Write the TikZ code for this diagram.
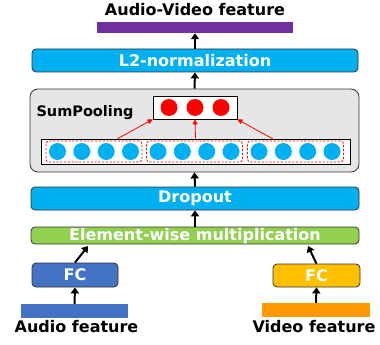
\documentclass[tikz,border=0pt]{standalone}
\usepackage{fontspec}
\setmainfont{DejaVu Sans}
\usepackage{tikz}
\usetikzlibrary{arrows.meta}
\usetikzlibrary{positioning}
\definecolor{avpurple}{HTML}{7030A0}
\definecolor{cyanbox}{HTML}{00B0F0}
\definecolor{poolgray}{HTML}{E7E6E6}
\definecolor{multgreen}{HTML}{92D050}
\definecolor{fcblue}{HTML}{4472C4}
\definecolor{fcgold}{HTML}{FFC000}
\definecolor{vorange}{HTML}{FF9900}

\begin{document}
\begin{tikzpicture}[x=1pt,y=-1pt,
                font=\fontsize{16}{18}\selectfont\bfseries,
                blk/.style n args={3}{draw=black!80,fill=#1,text=white,
                    minimum width=#2,
                    minimum height=#3,
                    rounded corners=4pt,
                    line width=0.8pt,inner sep=0pt},
                bar/.style n args={3}{fill=#1,minimum width=#2,
                    minimum height=#3,inner sep=0pt},
                arr/.style={-{Triangle[width=8pt,length=6pt]},line width=2pt},
                rarr/.style={-{Triangle[width=5pt,length=5pt]},red,line width=0.8pt},
                bdot/.style={circle,fill=cyanbox,minimum size=17pt,inner sep=0pt},
                rdot/.style={circle,fill=red,minimum size=17pt,inner sep=0pt},
                grp/.style={draw=red,dash pattern=on 2.2pt off 1.6pt,line width=0.8pt,
                    rounded corners=3pt,minimum width=96pt,minimum height=21pt}]
    \useasboundingbox (0,0) rectangle (380,345);
    % output side
    \node (avtxt) at (195,10) {Audio-Video feature};
    \node[bar={avpurple}{196pt}{11pt}] (av) at (195,27.5) {};
    \node[blk={cyanbox}{326pt}{23pt}] (l2) at (195,60.5) {L2-normalization};
    % sum pooling
    \node[draw=black!80,fill=poolgray,rounded corners=8pt,line width=0.8pt,
        minimum width=329pt,minimum height=83pt] (pool) at (194.5,130.5) {};
    \node[font=\fontsize{14.5}{16}\selectfont\bfseries,anchor=west] (sp) at (33,113) {SumPooling};
    \node[draw,fill=white,line width=0.8pt,minimum width=84pt,minimum height=23pt] (out) at (195,107.5) {};
    \foreach \x in {169,195,221}
        \node[rdot] (r\x) at (\x,107.5) {};
    \node[draw,fill=white,line width=0.8pt,minimum width=309pt,minimum height=25pt] (row) at (195.5,151.5) {};
    \foreach \g/\n in {94/1,194.5/2,295.5/3}{
        \node[grp] (g\n) at (\g,151.5) {};
        \foreach \d in {-36.5,-12.2,12.2,36.5}
            \node[bdot] at (\g+\d,151.5) {};
    }
    \coordinate (p1) at (117,139);
    \coordinate (p3) at (273,139);
    \draw[rarr] (p1) -- (out.south west);
    \draw[rarr] (row.north) -- (out.south);
    \draw[rarr] (p3) -- (out.south east);
    % fusion
    \node[blk={cyanbox}{328pt}{23pt}] (drop) at (195,198.5) {Dropout};
    \node[blk={multgreen}{328pt}{17pt}] (mult) at (195,235.5) {};
    \node[text=white] (multtxt) at (195,236.5) {Element-wise multiplication};
    \node[blk={fcblue}{86pt}{24pt}] (fca) at (75,275) {FC};
    \node[blk={fcgold}{87pt}{23pt}] (fcv) at (316.5,275.5) {FC};
    \node[bar={fcblue}{107pt}{14pt}] (abar) at (74.5,311) {};
    \node[bar={vorange}{108pt}{14pt}] (vbar) at (316,310) {};
    \node (atxt) at (76.5,327) {Audio feature};
    \node (vtxt) at (314,327) {Video feature};
    \coordinate (m1) at (88,246);
    \coordinate (m2) at (308,246);
    % arrows
    \draw[arr] (abar.north) -- (fca.south);
    \draw[arr] (vbar.north) -- (fcv.south);
    \draw[arr] (fca.north) -- (m1);
    \draw[arr] (fcv.north) -- (m2);
    \draw[arr] (mult.north) -- (drop.south);
    \draw[arr] (drop.north) -- (pool.south);
    \draw[arr] (pool.north) -- (l2.south);
    \draw[arr] (l2.north) -- (av.south);
\end{tikzpicture}
\end{document}
